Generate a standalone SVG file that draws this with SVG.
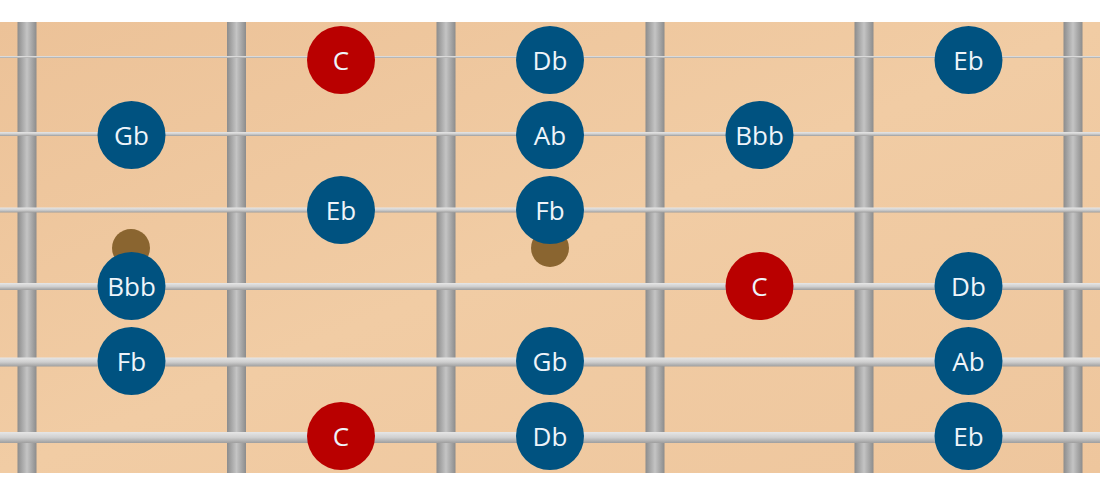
<svg xmlns="http://www.w3.org/2000/svg" width="1100" height="490" viewBox="0 0 1100 490">
<defs>
<linearGradient id="wood" x1="0" y1="0" x2="1" y2="1">
<stop offset="0" stop-color="#ecc298"/>
<stop offset="0.5" stop-color="#f1cca4"/>
<stop offset="1" stop-color="#eec69d"/>
</linearGradient>
<linearGradient id="fret" x1="0" y1="0" x2="1" y2="0">
<stop offset="0" stop-color="#8c8c8c"/>
<stop offset="0.5" stop-color="#c4c4c4"/>
<stop offset="1" stop-color="#8c8c8c"/>
</linearGradient>
<linearGradient id="str" x1="0" y1="0" x2="0" y2="1">
<stop offset="0" stop-color="#e6e6e6"/>
<stop offset="0.5" stop-color="#cfcfcf"/>
<stop offset="1" stop-color="#9e9e9e"/>
</linearGradient>
</defs>
<style>
.fret{fill:url(#fret)}
.str{fill:url(#str)}
.inlay{fill:#8a6530}
.n{fill:#005280}
.r{fill:#b90000}
.t{font-family:"Open Sans","Noto Sans","Liberation Sans",sans-serif;font-size:26px;fill:#eef4fa;text-anchor:middle;dominant-baseline:central}
</style>
<rect id="board" x="0" y="22" width="1100" height="451" fill="url(#wood)"/>
<g id="inlays">
<circle class="inlay" cx="131" cy="248" r="19"/>
<circle class="inlay" cx="550" cy="248" r="19"/>
</g>
<g id="frets">
<rect class="fret" x="17.5" y="22" width="19" height="451"/>
<rect class="fret" x="227" y="22" width="19" height="451"/>
<rect class="fret" x="436.5" y="22" width="19" height="451"/>
<rect class="fret" x="645.5" y="22" width="19" height="451"/>
<rect class="fret" x="854.5" y="22" width="19" height="451"/>
<rect class="fret" x="1063.5" y="22" width="19" height="451"/>
</g>
<g id="strings">
<rect class="str" x="0" y="56" width="1100" height="2"/>
<rect class="str" x="0" y="132" width="1100" height="4"/>
<rect class="str" x="0" y="207.5" width="1100" height="5"/>
<rect class="str" x="0" y="283" width="1100" height="7"/>
<rect class="str" x="0" y="357.5" width="1100" height="9"/>
<rect class="str" x="0" y="432" width="1100" height="11"/>
</g>
<g id="notes">
<g id="s1a"><circle class="r" cx="341" cy="60" r="34"/><text class="t" x="341" y="60">C</text></g>
<g id="s1b"><circle class="n" cx="550" cy="60" r="34"/><text class="t" x="550" y="60">Db</text></g>
<g id="s1c"><circle class="n" cx="968.5" cy="60" r="34"/><text class="t" x="968.5" y="60">Eb</text></g>
<g id="s2a"><circle class="n" cx="131.5" cy="135" r="34"/><text class="t" x="131.5" y="135">Gb</text></g>
<g id="s2b"><circle class="n" cx="550" cy="135" r="34"/><text class="t" x="550" y="135">Ab</text></g>
<g id="s2c"><circle class="n" cx="759.5" cy="135" r="34"/><text class="t" x="759.5" y="135">Bbb</text></g>
<g id="s3a"><circle class="n" cx="341" cy="210" r="34"/><text class="t" x="341" y="210">Eb</text></g>
<g id="s3b"><circle class="n" cx="550" cy="210" r="34"/><text class="t" x="550" y="210">Fb</text></g>
<g id="s4a"><circle class="n" cx="131.5" cy="286" r="34"/><text class="t" x="131.5" y="286">Bbb</text></g>
<g id="s4b"><circle class="r" cx="759.5" cy="286" r="34"/><text class="t" x="759.5" y="286">C</text></g>
<g id="s4c"><circle class="n" cx="968.5" cy="286" r="34"/><text class="t" x="968.5" y="286">Db</text></g>
<g id="s5a"><circle class="n" cx="131.5" cy="361" r="34"/><text class="t" x="131.5" y="361">Fb</text></g>
<g id="s5b"><circle class="n" cx="550" cy="361" r="34"/><text class="t" x="550" y="361">Gb</text></g>
<g id="s5c"><circle class="n" cx="968.5" cy="361" r="34"/><text class="t" x="968.5" y="361">Ab</text></g>
<g id="s6a"><circle class="r" cx="341" cy="436" r="34"/><text class="t" x="341" y="436">C</text></g>
<g id="s6b"><circle class="n" cx="550" cy="436" r="34"/><text class="t" x="550" y="436">Db</text></g>
<g id="s6c"><circle class="n" cx="968.5" cy="436" r="34"/><text class="t" x="968.5" y="436">Eb</text></g>
</g>
</svg>
